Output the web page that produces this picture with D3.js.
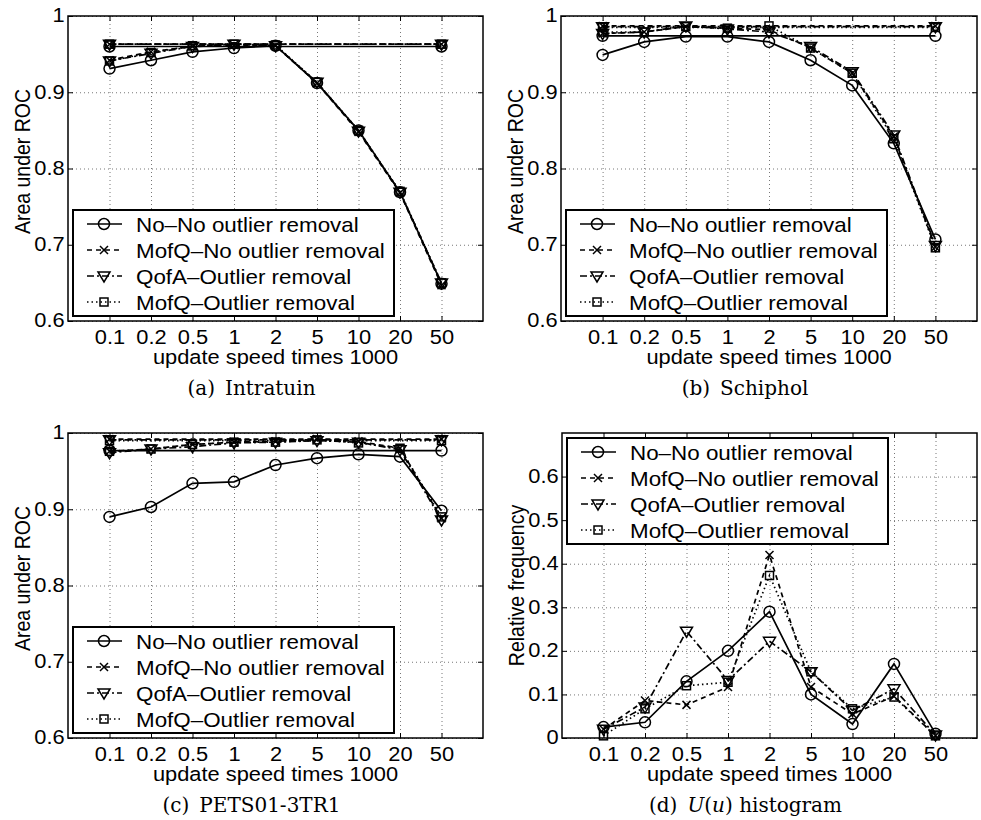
<!DOCTYPE html>
<html lang="en">
<head>
<meta charset="UTF-8">
<title>Area under ROC vs update speed</title>
<script src="https://cdn.jsdelivr.net/npm/d3@7"></script>
<style>
  body { margin: 0; background: #fff; }
  svg text { font-family: "Liberation Sans", Arial, Helvetica, sans-serif; fill: #000; }
  .caption { font-family: "DejaVu Serif", serif; font-size: 20px; }
  .grid line { stroke: #777; stroke-width: 1; stroke-dasharray: 1,3; }
  .grid path, .ticks path { display: none; }
  .ticks line { stroke: #000; stroke-width: 1; }
</style>
</head>
<body>
<div id="chart"></div>
<script>
// x categories (update speed times 1000)
var speeds = ["0.1", "0.2", "0.5", "1", "2", "5", "10", "20", "50"];
var seriesNames = ["No\u2013No outlier removal", "MofQ\u2013No outlier removal",
                   "QofA\u2013Outlier removal", "MofQ\u2013Outlier removal"];

// (a) Intratuin
var aNoNo    = [0.931, 0.942, 0.953, 0.958, 0.961, 0.912, 0.850, 0.769, 0.649];
var aMofQNo  = [0.942, 0.953, 0.960, 0.962, 0.961, 0.912, 0.848, 0.768, 0.647];
var aQofA    = [0.941, 0.951, 0.960, 0.963, 0.961, 0.913, 0.849, 0.769, 0.650];
var aMofQOut = [0.941, 0.952, 0.961, 0.963, 0.962, 0.913, 0.850, 0.770, 0.650];
var aFixed   = [0.960, 0.963, 0.963, 0.963];   // horizontal reference lines

// (b) Schiphol
var bNoNo    = [0.949, 0.966, 0.973, 0.973, 0.966, 0.942, 0.909, 0.833, 0.707];
var bMofQNo  = [0.977, 0.979, 0.986, 0.984, 0.982, 0.958, 0.925, 0.842, 0.697];
var bQofA    = [0.977, 0.979, 0.987, 0.983, 0.979, 0.960, 0.927, 0.844, 0.699];
var bMofQOut = [0.979, 0.979, 0.986, 0.984, 0.987, 0.958, 0.925, 0.839, 0.696];
var bFixed   = [0.974, 0.987, 0.986, 0.985];

// (c) PETS01-3TR1
var cNoNo    = [0.890, 0.903, 0.934, 0.936, 0.958, 0.967, 0.972, 0.969, 0.898];
var cMofQNo  = [0.976, 0.979, 0.985, 0.988, 0.989, 0.992, 0.989, 0.980, 0.888];
var cQofA    = [0.974, 0.979, 0.982, 0.987, 0.988, 0.990, 0.988, 0.978, 0.886];
var cMofQOut = [0.976, 0.979, 0.985, 0.988, 0.988, 0.991, 0.987, 0.980, 0.890];
var cFixed   = [0.977, 0.992, 0.991, 0.990];

// (d) U(u) histogram
var dNoNo    = [0.025, 0.036, 0.130, 0.200, 0.290, 0.100, 0.032, 0.170, 0.010];
var dMofQNo  = [0.020, 0.086, 0.076, 0.117, 0.420, 0.117, 0.055, 0.096, 0.005];
var dQofA    = [0.020, 0.071, 0.245, 0.132, 0.222, 0.152, 0.063, 0.113, 0.007];
var dMofQOut = [0.005, 0.067, 0.120, 0.128, 0.373, 0.152, 0.067, 0.094, 0.005];

var rocTicks  = [0.6, 0.7, 0.8, 0.9, 1];
var freqTicks = [0, 0.1, 0.2, 0.3, 0.4, 0.5, 0.6];

var W = 981, H = 820;
var SX = 1.12;  // the reference text is a bit wide
var dashes = [null, "5,4", "7,3,2,3", "1.5,3"];
var markers = ["o", "x", "v", "s"];

var svg = d3.select("#chart").append("svg")
    .attr("width", W).attr("height", H);

function drawMarker(g, type, x, y) {
    if (type === "o") {
        g.append("circle").attr("cx", x).attr("cy", y).attr("r", 5.5);
    } else if (type === "s") {
        g.append("rect").attr("x", x - 4).attr("y", y - 4).attr("width", 8).attr("height", 8);
    } else if (type === "v") {
        g.append("path").attr("d", "M" + (x - 6) + "," + (y - 4) + "L" + (x + 6) + "," + (y - 4) + "L" + x + "," + (y + 6) + "Z");
    } else {
        g.append("path").attr("d", "M" + (x - 4) + "," + (y - 4) + "L" + (x + 4) + "," + (y + 4) +
            "M" + (x - 4) + "," + (y + 4) + "L" + (x + 4) + "," + (y - 4));
    }
}

function fmt(d) { return String(+d.toFixed(1)); }

function panel(p) {
    var x = d3.scalePoint().domain(speeds).range([p.left, p.right]).padding(1);
    var y = d3.scaleLinear().domain(p.domain).range([p.bottom, p.top]);
    var g = svg.append("g");

    // dotted grid
    g.append("g").attr("class", "grid")
        .attr("transform", "translate(0," + p.bottom + ")")
        .call(d3.axisBottom(x).tickSize(-(p.bottom - p.top)).tickFormat(""));
    g.append("g").attr("class", "grid")
        .attr("transform", "translate(" + p.left + ",0)")
        .call(d3.axisLeft(y).tickValues(p.ticks).tickSize(-(p.right - p.left)).tickFormat(""));

    // inward ticks on all four sides
    var xb = g.append("g").attr("class", "ticks")
        .attr("transform", "translate(0," + p.bottom + ")")
        .call(d3.axisBottom(x).tickSizeInner(-5).tickSizeOuter(0).tickPadding(9));
    xb.selectAll("text").style("font-size", "19.5px").attr("transform", "scale(" + SX + ",1)");
    g.append("g").attr("class", "ticks")
        .attr("transform", "translate(0," + p.top + ")")
        .call(d3.axisTop(x).tickSizeInner(-5).tickSizeOuter(0).tickFormat(""));
    var yl = g.append("g").attr("class", "ticks")
        .attr("transform", "translate(" + p.left + ",0)")
        .call(d3.axisLeft(y).tickValues(p.ticks).tickFormat(fmt).tickSizeInner(-5).tickSizeOuter(0).tickPadding(3));
    yl.selectAll("text").style("font-size", "19.5px").attr("dy", "0.3em")
        .attr("transform", "scale(" + SX + ",1)");
    g.append("g").attr("class", "ticks")
        .attr("transform", "translate(" + p.right + ",0)")
        .call(d3.axisRight(y).tickValues(p.ticks).tickFormat("").tickSizeInner(-5).tickSizeOuter(0));

    // series
    var line = d3.line().x(function(d, i) { return x(speeds[i]); }).y(function(d) { return y(d); });
    p.series.forEach(function(vals, k) {
        var sg = g.append("g").attr("fill", "none").attr("stroke", "#000");
        if (p.fixed) {
            var f = p.fixed[k];
            sg.append("line")
                .attr("x1", x(speeds[0])).attr("x2", x(speeds[speeds.length - 1]))
                .attr("y1", y(f)).attr("y2", y(f))
                .attr("stroke-width", 1.7).attr("stroke-dasharray", dashes[k]);
            var mf = sg.append("g").attr("stroke-width", 1.5);
            drawMarker(mf, markers[k], x(speeds[0]), y(f));
            drawMarker(mf, markers[k], x(speeds[speeds.length - 1]), y(f));
        }
        sg.append("path").datum(vals).attr("d", line)
            .attr("stroke-width", 1.7).attr("stroke-dasharray", dashes[k]);
        var mg = sg.append("g").attr("stroke-width", 1.5);
        vals.forEach(function(v, i) { drawMarker(mg, markers[k], x(speeds[i]), y(v)); });
    });

    // box
    g.append("rect").attr("x", p.left).attr("y", p.top)
        .attr("width", p.right - p.left).attr("height", p.bottom - p.top)
        .attr("fill", "none").attr("stroke", "#000").attr("stroke-width", 1.5);

    // legend
    var lx = p.left + 5, ly = p.legendTop ? p.top + 5 : p.bottom - 111;
    var lg = g.append("g").attr("transform", "translate(" + lx + "," + ly + ")");
    lg.append("rect").attr("width", 321).attr("height", 106)
        .attr("fill", "#fff").attr("stroke", "#000").attr("stroke-width", 2);
    seriesNames.forEach(function(name, k) {
        var cy = 14 + k * 26;
        var row = lg.append("g").attr("fill", "none").attr("stroke", "#000");
        row.append("line").attr("x1", 14).attr("x2", 49).attr("y1", cy).attr("y2", cy)
            .attr("stroke-width", 1.7).attr("stroke-dasharray", dashes[k]);
        drawMarker(row.append("g").attr("stroke-width", 1.5), markers[k], 31, cy);
        lg.append("text").attr("transform", "translate(63," + (cy + 7.5) + ") scale(" + SX + ",1)")
            .style("font-size", "20px").text(name);
    });

    // axis titles
    var cx = (p.left + p.right) / 2;
    g.append("text").attr("transform", "translate(" + cx + "," + (p.bottom + 43) + ") scale(" + SX + ",1)")
        .attr("text-anchor", "middle").style("font-size", "19.5px").text("update speed times 1000");
    var cyl = (p.top + p.bottom) / 2 + p.ylabelShift;
    g.append("text").attr("transform", "translate(" + (p.left - 38) + "," + cyl + ") rotate(-90) scale(1," + SX + ")")
        .attr("text-anchor", "middle").style("font-size", "19.5px").text(p.ylabel);

    // caption
    var cap = g.append("text").attr("class", "caption")
        .attr("x", cx - 24).attr("y", p.bottom + 74).attr("text-anchor", "middle");
    p.caption.forEach(function(part) {
        cap.append("tspan").style("font-style", part[1] ? "italic" : "normal").text(part[0]);
    });
}

panel({ left: 68, right: 483, top: 16, bottom: 321, domain: [0.6, 1], ticks: rocTicks,
        series: [aNoNo, aMofQNo, aQofA, aMofQOut], fixed: aFixed, ylabel: "Area under ROC", ylabelShift: -7,
        caption: [["(a)\u2002Intratuin", false]] });
panel({ left: 561, right: 977, top: 16, bottom: 321, domain: [0.6, 1], ticks: rocTicks,
        series: [bNoNo, bMofQNo, bQofA, bMofQOut], fixed: bFixed, ylabel: "Area under ROC", ylabelShift: -7,
        caption: [["(b)\u2002Schiphol", false]] });
panel({ left: 68, right: 483, top: 433, bottom: 738, domain: [0.6, 1], ticks: rocTicks,
        series: [cNoNo, cMofQNo, cQofA, cMofQOut], fixed: cFixed, ylabel: "Area under ROC", ylabelShift: -7,
        caption: [["(c)\u2002PETS01-3TR1", false]] });
panel({ left: 562, right: 977, top: 433, bottom: 738, domain: [0, 0.7], ticks: freqTicks,
        series: [dNoNo, dMofQNo, dQofA, dMofQOut], fixed: null, ylabel: "Relative frequency", ylabelShift: 0,
        legendTop: true,
        caption: [["(d)\u2002", false], ["U", true], ["(", false], ["u", true], [") histogram", false]] });
</script>
</body>
</html>
